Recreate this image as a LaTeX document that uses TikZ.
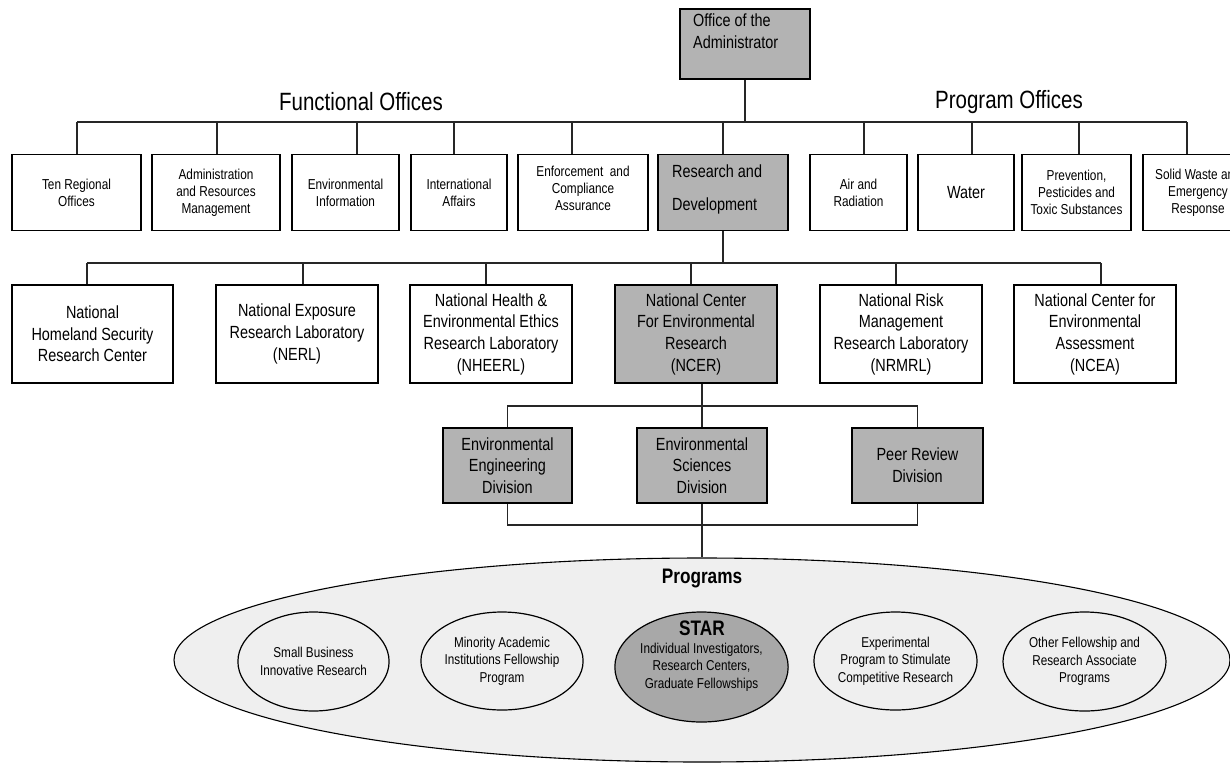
\documentclass[tikz,border=0pt]{standalone}
\usepackage{fontspec}
\setmainfont{Liberation Sans}[FakeStretch=0.82]
\usetikzlibrary{shapes.geometric}
\definecolor{boxgray}{HTML}{B3B3B3}
\definecolor{stargray}{HTML}{A8A8A8}
\definecolor{ellgray}{HTML}{EFEFEF}
\newcommand{\fsmall}{\fontsize{14.4}{17}\selectfont}
\newcommand{\fmed}{\fontsize{17.6}{21.7}\selectfont}
\newcommand{\fprog}{\fontsize{14.3}{17.4}\selectfont}
\newcommand{\fhead}{\fontsize{25}{30}\selectfont}
\newcommand{\fbold}{\fontsize{21}{25}\selectfont\bfseries}
\tikzset{
  box/.style={draw=black, line width=1.2pt, fill=white, inner sep=0pt, align=center},
  gbox/.style={box, fill=boxgray},
  r1/.style={box, font=\fsmall, minimum height=76pt},
  r2/.style={box, font=\fmed, minimum height=98pt},
  dv/.style={gbox, font=\fmed, minimum height=75pt},
  circ/.style={ellipse, draw=black, line width=1.2pt, fill=ellgray, inner sep=0pt, align=center, font=\fprog},
  conn/.style={draw=black!85, line width=1.2pt}
}
\begin{document}
\begin{tikzpicture}[x=1pt,y=-1pt]
\useasboundingbox (0,0) rectangle (1230,763);
\fill[white] (0,0) rectangle (1230,763);
\clip (0,0) rectangle (1230,763);

% top
\node[gbox, minimum width=130pt, minimum height=70pt] (admin) at (745,44) {};
\node[anchor=west, font=\fmed, align=left, inner sep=0pt] (admintxt) at (693,31.5) {Office of the\\Administrator};
\node[font=\fhead, inner sep=0pt] (funct) at (361,102) {Functional Offices};
\node[font=\fhead, inner sep=0pt] (progoff) at (1009,102) {Program Offices};

% row 1
\node[r1, minimum width=129pt] (tro) at (76.5,192.5) {Ten Regional\\Offices};
\node[r1, minimum width=128pt] (arm) at (216,192.5) {Administration\\and Resources\\Management};
\node[r1, minimum width=107pt] (ei) at (345.5,192.5) {Environmental\\Information};
\node[r1, minimum width=96pt] (ia) at (459,192.5) {International\\Affairs};
\node[r1, minimum width=130pt, text depth=9pt] (eca) at (583,192.5) {Enforcement\ \ and\\Compliance\\Assurance};
\node[r1, gbox, minimum width=130pt] (rd) at (723,192.5) {};
\node[anchor=west, font=\fontsize{17.6}{33}\selectfont, align=left, inner sep=0pt] (rdtxt) at (672,189.5) {Research and\\Development};
\node[r1, minimum width=97pt] (air) at (858.5,192.5) {Air and\\Radiation};
\node[r1, minimum width=96pt, font=\fmed] (water) at (966,192.5) {Water};
\node[r1, minimum width=109pt] (ppts) at (1076.5,192.5) {Prevention,\\Pesticides and\\Toxic Substances};
\node[r1, minimum width=110pt] (swer) at (1198,192.5) {Solid Waste and\\Emergency\\Response};

% row 1 connectors
\coordinate (busL) at (77,122);
\coordinate (busR) at (1187,122);
\coordinate (dA) at (217,122);
\coordinate (dB) at (357,122);
\coordinate (dC) at (454,122);
\coordinate (dD) at (572,122);
\coordinate (dE) at (723,122);
\coordinate (dF) at (864,122);
\coordinate (dG) at (972,122);
\coordinate (dH) at (1079,122);
\coordinate (dO) at (745,122);
\draw[conn] (busL) -- (busR);
\draw[conn] (admin.south) -- (dO);
\draw[conn] (busL) -- (busL |- tro.north);
\draw[conn] (dA) -- (dA |- arm.north);
\draw[conn] (dB) -- (dB |- ei.north);
\draw[conn] (dC) -- (dC |- ia.north);
\draw[conn] (dD) -- (dD |- eca.north);
\draw[conn] (dE) -- (dE |- rd.north);
\draw[conn] (dF) -- (dF |- air.north);
\draw[conn] (dG) -- (dG |- water.north);
\draw[conn] (dH) -- (dH |- ppts.north);
\draw[conn] (busR) -- (busR |- swer.north);

% row 2
\node[r2, minimum width=161pt] (nhsrc) at (92.5,334) {National\\Homeland Security\\Research Center};
\node[r2, minimum width=162pt] (nerl) at (297,334) {National Exposure\\Research Laboratory\\(NERL)};
\node[r2, minimum width=162pt] (nheerl) at (491,334) {National Health \&\\Environmental Ethics\\Research Laboratory\\(NHEERL)};
\node[r2, gbox, minimum width=162pt] (ncer) at (696,334) {National Center\\For Environmental\\Research\\(NCER)};
\node[r2, minimum width=162pt] (nrmrl) at (901,334) {National Risk\\Management\\Research Laboratory\\(NRMRL)};
\node[r2, minimum width=162pt] (ncea) at (1095,334) {National Center for\\Environmental\\Assessment\\(NCEA)};

\coordinate (b2L) at (87,263);
\coordinate (b2R) at (1101,263);
\coordinate (e2A) at (303,263);
\coordinate (e2B) at (486,263);
\coordinate (e2C) at (691,263);
\coordinate (e2D) at (896,263);
\coordinate (e2R) at (723,263);
\draw[conn] (b2L) -- (b2R);
\draw[conn] (rd.south) -- (e2R);
\draw[conn] (b2L) -- (b2L |- nhsrc.north);
\draw[conn] (e2A) -- (e2A |- nerl.north);
\draw[conn] (e2B) -- (e2B |- nheerl.north);
\draw[conn] (e2C) -- (e2C |- ncer.north);
\draw[conn] (e2D) -- (e2D |- nrmrl.north);
\draw[conn] (b2R) -- (b2R |- ncea.north);

% divisions
\node[dv, minimum width=129pt] (eed) at (507.5,465.5) {Environmental\\Engineering\\Division};
\node[dv, minimum width=130pt] (esd) at (702,465.5) {Environmental\\Sciences\\Division};
\node[dv, minimum width=131pt] (prd) at (917.5,465.5) {Peer Review\\Division};

\coordinate (b3) at (702,406);
\draw[conn] (ncer.south -| b3) -- (b3);
\draw[conn] (eed.north) |- (b3) -| (prd.north);
\draw[conn] (b3) -- (esd.north);
\coordinate (b4) at (702,525);

% programs
\node[ellipse, draw=black, line width=1.1pt, fill=ellgray, minimum width=1056pt, minimum height=204pt, inner sep=0pt] (prog) at (702,660) {};
\draw[conn] (eed.south) |- (b4) -| (prd.south);
\draw[conn] (esd.south) -- (prog.north);
\node[font=\fbold, inner sep=0pt] (progtitle) at (702,578) {Programs};

\node[circ, minimum width=151pt, minimum height=99pt] (sbir) at (313.5,661.5) {Small Business\\Innovative Research};
\node[circ, minimum width=162pt, minimum height=98pt] (maifp) at (502,661) {Minority Academic\\Institutions Fellowship\\Program};
\node[circ, fill=stargray, minimum width=173pt, minimum height=110pt] (star) at (701.5,667) {Individual Investigators,\\Research Centers,\\Graduate Fellowships};
\node[font=\fbold, inner sep=0pt] (startitle) at (702,628) {STAR};
\node[circ, minimum width=151pt, minimum height=98pt] (epscr) at (895.5,661) {Experimental\\Program to Stimulate\\Competitive Research};
\node[circ, minimum width=163pt, minimum height=99pt] (ofrap) at (1084.5,661.5) {Other Fellowship and\\Research Associate\\Programs};
\end{tikzpicture}
\end{document}
